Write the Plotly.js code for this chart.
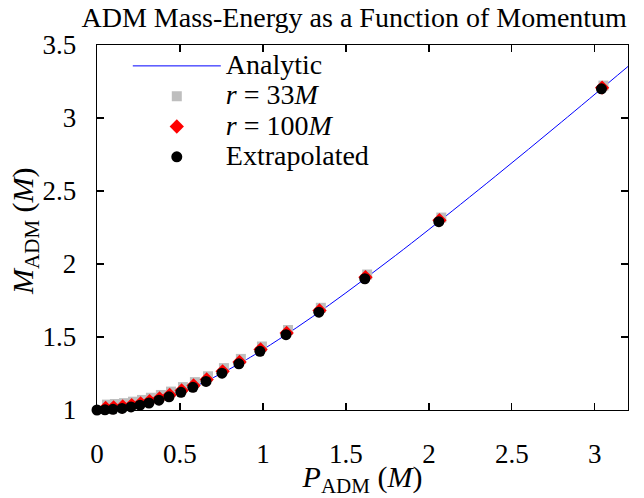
<!DOCTYPE html>
<html>
<head>
<meta charset="utf-8">
<script src="https://cdn.plot.ly/plotly-3.0.1.min.js"></script>
<style>html,body{margin:0;padding:0;background:#fff;}#chart{width:644px;height:498px;}</style>
</head>
<body>
<div id="chart"></div>
<script>
// Analytic curve
const P_analytic = [0, 0.1, 0.2, 0.3, 0.4, 0.5, 0.6, 0.7, 0.8, 0.9, 1.0, 1.2, 1.4, 1.6, 1.8, 2.0, 2.4, 2.8, 3.2];
const M_analytic = [1.000, 1.005, 1.020, 1.044, 1.077, 1.118, 1.166, 1.221, 1.281, 1.345, 1.414, 1.562, 1.720, 1.887, 2.059, 2.236, 2.600, 2.973, 3.353];

// r = 33M
const P_r33 = [0.060, 0.108, 0.163, 0.217, 0.271, 0.325, 0.385, 0.446, 0.518, 0.590, 0.669, 0.765, 0.867, 0.994, 1.151, 1.349, 1.628, 2.075, 3.052];
const M_r33 = [1.037, 1.041, 1.047, 1.057, 1.069, 1.084, 1.103, 1.126, 1.157, 1.191, 1.231, 1.287, 1.350, 1.435, 1.548, 1.700, 1.928, 2.318, 3.222];

// r = 100M
const P_r100 = [0.052, 0.100, 0.155, 0.209, 0.263, 0.317, 0.377, 0.438, 0.510, 0.582, 0.661, 0.757, 0.859, 0.986, 1.143, 1.341, 1.618, 2.064, 3.044];
const M_r100 = [1.014, 1.018, 1.024, 1.034, 1.046, 1.061, 1.080, 1.103, 1.134, 1.168, 1.209, 1.265, 1.329, 1.415, 1.528, 1.682, 1.910, 2.300, 3.208];

// Extrapolated
const P_extrap = [0, 0.048, 0.096, 0.151, 0.205, 0.259, 0.313, 0.373, 0.434, 0.506, 0.578, 0.657, 0.753, 0.855, 0.982, 1.139, 1.337, 1.614, 2.060, 3.040];
const M_extrap = [1.000, 1.001, 1.005, 1.011, 1.021, 1.033, 1.048, 1.067, 1.090, 1.121, 1.155, 1.196, 1.252, 1.316, 1.402, 1.516, 1.670, 1.899, 2.290, 3.200];

const seriesNames = ['Analytic', '<i>r</i> = 33<i>M</i>', '<i>r</i> = 100<i>M</i>', 'Extrapolated'];
const xTicks = [0, 0.5, 1, 1.5, 2, 2.5, 3];
const xTickText = ['0', '0.5', '1', '1.5', '2', '2.5', '3'];
const yTicks = [1, 1.5, 2, 2.5, 3, 3.5];
const yTickText = ['1', '1.5', '2', '2.5', '3', '3.5'];

const FONT = 'Liberation Serif, Times New Roman, serif';
const big = s => '<span style="font-size:28px">' + s + '</span>';

const traces = [
  {x: P_analytic, y: M_analytic, mode: 'lines', name: big(seriesNames[0]),
   line: {color: 'rgb(0,0,255)', width: 1, shape: 'spline'}, cliponaxis: true},
  {x: P_r33, y: M_r33, mode: 'markers', name: big(seriesNames[1]),
   marker: {symbol: 'square', size: 10, color: 'rgb(190,190,190)'}, cliponaxis: false},
  {x: P_r100, y: M_r100, mode: 'markers', name: big(seriesNames[2]),
   marker: {symbol: 'diamond', size: 11, color: 'rgb(255,0,0)'}, cliponaxis: false},
  {x: P_extrap, y: M_extrap, mode: 'markers', name: big(seriesNames[3]),
   marker: {symbol: 'circle', size: 11, color: 'black'}, cliponaxis: false}
];

const axisCommon = {
  showline: true, linecolor: 'black', linewidth: 1.3, mirror: 'ticks',
  ticks: 'inside', ticklen: 7, tickcolor: 'black', tickwidth: 1.3,
  showgrid: false, zeroline: false,
  tickfont: {family: FONT, size: 27, color: 'black'}
};

const layout = {
  width: 644, height: 498,
  margin: {l: 97, r: 16, t: 45, b: 88},
  paper_bgcolor: 'white', plot_bgcolor: 'white',
  font: {family: FONT, color: 'black'},
  title: {text: 'ADM Mass-Energy as a Function of Momentum',
          font: {family: FONT, size: 28, color: 'black'},
          x: 0.55, xanchor: 'center', xref: 'container', y: 0.966, yanchor: 'middle', yref: 'container'},
  xaxis: Object.assign({}, axisCommon, {
    range: [0, 3.2], tickvals: xTicks, ticktext: xTickText, ticklabelstandoff: 19,
    title: {text: '<i>P</i><sub>ADM</sub> (<i>M</i>)', font: {family: FONT, size: 30, color: 'black'}, standoff: 9}
  }),
  yaxis: Object.assign({}, axisCommon, {
    range: [1, 3.5], tickvals: yTicks, ticktext: yTickText, ticklabelstandoff: 14
  }),
  showlegend: true,
  legend: {x: 0.058, y: 0.998, xanchor: 'left', yanchor: 'top', bgcolor: 'rgba(0,0,0,0)',
           borderwidth: 0, itemwidth: 88, font: {family: FONT, size: 21, color: 'black'}},
  annotations: [
    {text: '<i>M</i><sub>ADM</sub> (<i>M</i>)', xref: 'paper', yref: 'paper',
     x: -0.136, y: 0.49, xanchor: 'center', yanchor: 'middle', textangle: -90,
     showarrow: false, font: {family: FONT, size: 30, color: 'black'}}
  ]
};

Plotly.newPlot('chart', traces, layout, {displayModeBar: false, staticPlot: true});
</script>
</body>
</html>
